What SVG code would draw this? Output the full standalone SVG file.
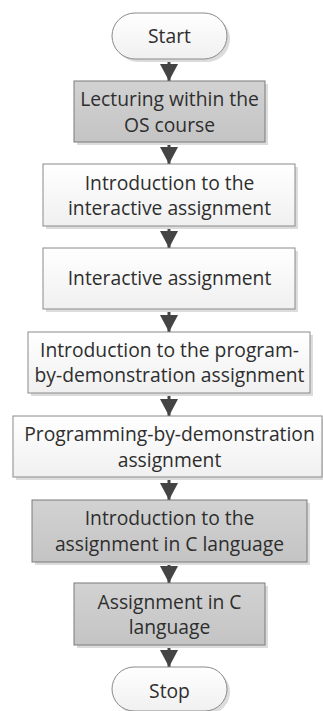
<svg xmlns="http://www.w3.org/2000/svg" width="323" height="711" viewBox="0 0 323 711">
<style>
.bg{fill:#ffffff}
.w{fill:url(#gw);stroke:#8a8a8a;stroke-width:1}
.g{fill:url(#gg);stroke:#7a7a7a;stroke-width:1}
.sh{fill:#dcdcdc}
.t{font-family:"Open Sans","Liberation Sans",sans-serif;font-size:19.3px;fill:#2e2e2e;text-anchor:middle}
.c{stroke:#444;stroke-width:3;fill:none;marker-end:url(#ah)}
</style>
<defs>
<linearGradient id="gw" x1="0" y1="0" x2="0" y2="1"><stop offset="0" stop-color="#ffffff"/><stop offset="1" stop-color="#f0f0f0"/></linearGradient>
<linearGradient id="gg" x1="0" y1="0" x2="0" y2="1"><stop offset="0" stop-color="#d2d2d2"/><stop offset="1" stop-color="#c4c4c4"/></linearGradient>
<marker id="ah" markerUnits="userSpaceOnUse" markerWidth="19" markerHeight="19" refX="17" refY="9" orient="auto"><path d="M0,0 L17,9 L0,18 Z" fill="#444"/></marker>
</defs>
<rect class="bg" width="323" height="711"/>
<g id="connectors">
<line class="c" x1="169" y1="59" x2="169" y2="81"/>
<line class="c" x1="169" y1="142" x2="169" y2="164"/>
<line class="c" x1="169" y1="226" x2="169" y2="248"/>
<line class="c" x1="169" y1="309" x2="169" y2="332"/>
<line class="c" x1="169" y1="393" x2="169" y2="416"/>
<line class="c" x1="169" y1="477" x2="169" y2="500"/>
<line class="c" x1="169" y1="562" x2="169" y2="583"/>
<line class="c" x1="169" y1="645" x2="169" y2="667"/>
</g>
<g id="start">
<rect class="sh" x="115" y="16" width="115" height="46" rx="23"/>
<rect class="w" x="112" y="13" width="115" height="46" rx="23"/>
<text class="t" x="169.5" y="43">Start</text>
</g>
<g id="lecturing">
<rect class="sh" x="77" y="84" width="191" height="61"/>
<rect class="g" x="74" y="81" width="191" height="61"/>
<text class="t" x="169.5" y="106">Lecturing within the</text>
<text class="t" x="169.5" y="132">OS course</text>
</g>
<g id="intro-interactive">
<rect class="sh" x="46" y="167" width="252" height="62"/>
<rect class="w" x="43" y="164" width="252" height="62"/>
<text class="t" x="169.5" y="190">Introduction to the</text>
<text class="t" x="169.5" y="215">interactive assignment</text>
</g>
<g id="interactive">
<rect class="sh" x="46" y="251" width="252" height="61"/>
<rect class="w" x="43" y="248" width="252" height="61"/>
<text class="t" x="169.5" y="285">Interactive assignment</text>
</g>
<g id="intro-pbd">
<rect class="sh" x="31" y="335" width="282" height="61"/>
<rect class="w" x="28" y="332" width="282" height="61"/>
<text class="t" x="169.5" y="357">Introduction to the program-</text>
<text class="t" x="169.5" y="382">by-demonstration assignment</text>
</g>
<g id="pbd">
<rect class="sh" x="16" y="419" width="310" height="61"/>
<rect class="w" x="13" y="416" width="309" height="61"/>
<text class="t" x="169.5" y="441">Programming-by-demonstration</text>
<text class="t" x="169.5" y="467">assignment</text>
</g>
<g id="intro-c">
<rect class="sh" x="35" y="503" width="275" height="62"/>
<rect class="g" x="32" y="500" width="275" height="62"/>
<text class="t" x="169.5" y="525">Introduction to the</text>
<text class="t" x="169.5" y="551">assignment in C language</text>
</g>
<g id="assign-c">
<rect class="sh" x="77" y="586" width="191" height="62"/>
<rect class="g" x="74" y="583" width="191" height="62"/>
<text class="t" x="169.5" y="609">Assignment in C</text>
<text class="t" x="169.5" y="634">language</text>
</g>
<g id="stop">
<rect class="sh" x="115" y="670" width="115" height="44" rx="22"/>
<rect class="w" x="112" y="667" width="115" height="44" rx="22"/>
<text class="t" x="169.5" y="698">Stop</text>
</g>
</svg>
